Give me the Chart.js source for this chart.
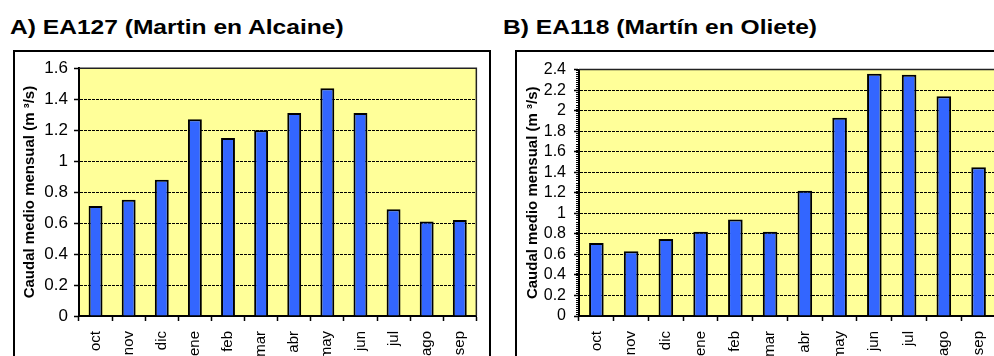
<!DOCTYPE html>
<html>
<head>
<meta charset="utf-8">
<script src="https://cdn.jsdelivr.net/npm/chart.js@4/dist/chart.umd.min.js"></script>
<style>
  html, body { margin: 0; padding: 0; background: #fff; overflow: hidden; width: 994px; height: 356px; }
  .ttl { position: absolute; font: bold 21px "Liberation Sans", Arial, sans-serif; color: #000; white-space: nowrap; line-height: 23px; transform: scaleX(1.17); transform-origin: 0 0; }
  .frame { position: absolute; border: 2px solid #000; box-sizing: border-box; }
  canvas { position: absolute; }
</style>
</head>
<body>
<div class="ttl" style="left:10px;top:15px">A) EA127 (Martin en Alcaine)</div>
<div class="ttl" style="left:503px;top:15px">B) EA118 (Martín en Oliete)</div>
<div class="frame" style="left:13px;top:50px;width:478px;height:330px"></div>
<div class="frame" style="left:515px;top:50px;width:500px;height:330px"></div>
<canvas id="cA" width="473" height="304" style="left:15px;top:52px"></canvas>
<canvas id="cB" width="490" height="304" style="left:517px;top:52px"></canvas>
<script>
// meses del año hidrológico (oct -> sep)
const meses = ["oct", "nov", "dic", "ene", "feb", "mar", "abr", "may", "jun", "jul", "ago", "sep"];

// caudal medio mensual (m3/s)
const caudalAlcaine = [0.71, 0.75, 0.88, 1.27, 1.15, 1.20, 1.31, 1.47, 1.31, 0.69, 0.61, 0.62];
const caudalOliete  = [0.71, 0.63, 0.75, 0.82, 0.94, 0.82, 1.22, 1.93, 2.36, 2.35, 2.14, 1.45];

const maxA = 1.6, maxB = 2.4, paso = 0.2;
const tituloEje = "Caudal medio mensual (m ³/s)";
const FONT = "'Liberation Sans', Arial, sans-serif";

Chart.defaults.font.family = FONT;
Chart.defaults.color = "#000";

// fondo amarillo + marco del área de trazado + marcas menores
const plotBox = {
  id: "plotBox",
  beforeDraw(chart) {
    const { ctx, chartArea: a } = chart;
    ctx.save();
    ctx.fillStyle = "#FFFF99";
    ctx.fillRect(a.left, a.top, a.right - a.left, a.bottom - a.top);
    ctx.restore();
  },
  afterDraw(chart, args, opts) {
    const { ctx, chartArea: a } = chart;
    ctx.save();
    ctx.strokeStyle = "#222";
    ctx.lineWidth = 1.5;
    ctx.beginPath();
    ctx.moveTo(a.left, a.top); ctx.lineTo(a.right, a.top); ctx.lineTo(a.right, a.bottom);
    ctx.stroke();
    if (opts.minor) {
      const y = chart.scales.y;
      ctx.strokeStyle = "#000"; ctx.lineWidth = 1;
      ctx.beginPath();
      for (let v = 0; v <= y.max + 1e-9; v += opts.minor) {
        const py = Math.round(y.getPixelForValue(v)) + 0.5;
        ctx.moveTo(a.left - 3, py); ctx.lineTo(a.left, py);
      }
      ctx.stroke();
    }
    ctx.restore();
  }
};

function makeChart(id, datos, yMax, yWidth, padRight, titlePad, tickPad, fs, minor) {
  return new Chart(document.getElementById(id), {
    type: "bar",
    data: {
      labels: meses,
      datasets: [{
        data: datos,
        backgroundColor: "#3366FF",
        borderColor: "#000",
        borderWidth: 2,
        barPercentage: 0.42,
        categoryPercentage: 1
      }]
    },
    plugins: [plotBox],
    options: {
      responsive: false,
      animation: false,
      layout: { padding: { top: 12, right: padRight, left: 0, bottom: 0 } },
      plugins: { legend: { display: false }, tooltip: { enabled: false }, plotBox: { minor } },
      scales: {
        x: {
          grid: { display: true, drawOnChartArea: false, tickLength: 5, tickColor: "#000", tickWidth: 1.5 },
          border: { display: true, color: "#000", width: 2 },
          ticks: { font: { size: 15 }, maxRotation: 90, minRotation: 90, padding: 10, autoSkip: false },
          afterFit(s) { s.height = 40; }
        },
        y: {
          min: 0, max: yMax,
          grid: { color: "#000", lineWidth: 1, tickLength: 5, tickColor: "#000", tickWidth: 1.5 },
          border: { display: true, color: "#000", width: 2, dash: [3, 1] },
          ticks: {
            stepSize: paso, font: { size: fs }, padding: tickPad, autoSkip: false,
            callback: v => String(+v.toFixed(2))
          },
          title: { display: true, text: tituloEje, font: { size: 15, weight: "bold" }, padding: { top: titlePad, bottom: 0 } },
          afterFit(s) { s.width = yWidth; }
        }
      }
    }
  });
}

makeChart("cA", caudalAlcaine, maxA, 64, 5, 6, 6, 17, 0);
makeChart("cB", caudalOliete, maxB, 62, 10, 7, 8, 16, 0.02);
</script>
</body>
</html>
